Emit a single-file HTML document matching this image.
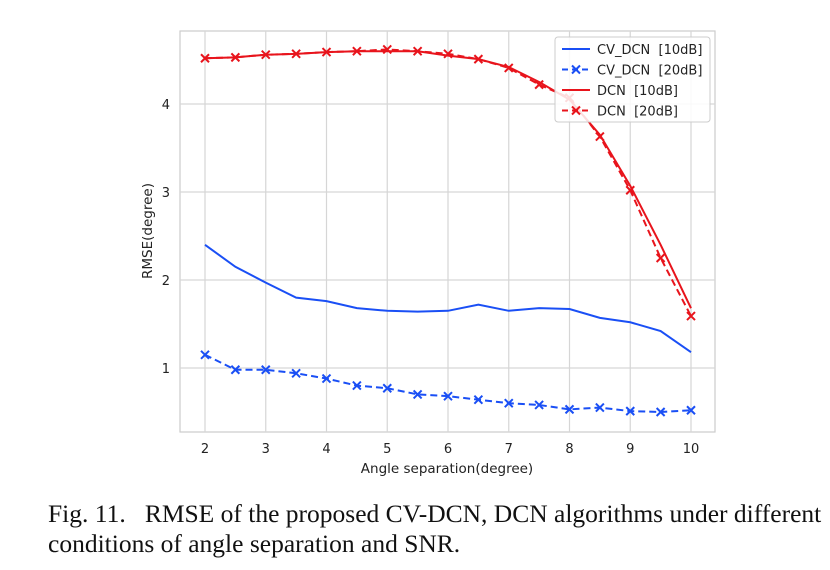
<!DOCTYPE html>
<html><head><meta charset="utf-8"><style>
body{margin:0;background:#fff;width:830px;height:570px;overflow:hidden}
svg text{font-family:"DejaVu Sans","Liberation Sans",sans-serif}
.cap{position:absolute;left:48px;top:499px;font-family:"Liberation Serif",serif;font-size:25.5px;line-height:30px;color:#111;white-space:nowrap;word-spacing:0px}
</style></head><body>
<svg id="chart" width="830" height="570" style="position:absolute;left:0;top:0"></svg>
<div class="cap">Fig. 11.&nbsp;&nbsp; RMSE of the proposed CV-DCN, DCN algorithms under different<br>conditions of angle separation and SNR.</div>
<script>
const xs=[2,2.5,3,3.5,4,4.5,5,5.5,6,6.5,7,7.5,8,8.5,9,9.5,10];
const cv10=[2.40,2.15,1.97,1.80,1.76,1.68,1.65,1.64,1.65,1.72,1.65,1.68,1.67,1.57,1.52,1.42,1.18];
const cv20=[1.15,0.98,0.98,0.94,0.88,0.80,0.77,0.70,0.68,0.64,0.60,0.58,0.53,0.55,0.51,0.50,0.52];
const dcn10=[4.52,4.53,4.56,4.57,4.59,4.60,4.60,4.60,4.55,4.51,4.42,4.25,4.05,3.65,3.07,2.40,1.68];
const dcn20=[4.52,4.53,4.56,4.57,4.59,4.60,4.62,4.60,4.57,4.51,4.41,4.22,4.07,3.63,3.02,2.25,1.59];
const xTicks=[2,3,4,5,6,7,8,9,10];
const yTicks=[1,2,3,4];
const NS="http://www.w3.org/2000/svg";
const svg=document.getElementById('chart');
const X=v=>205+(v-2)*60.75;
const Y=v=>456-v*88;
function mk(t,a){const e=document.createElementNS(NS,t);for(const k in a)e.setAttribute(k,a[k]);svg.appendChild(e);return e;}
const frame=mk('rect',{x:180,y:31,width:535,height:401,fill:'#fff',stroke:'#ccc','stroke-width':1.2});


xTicks.forEach(t=>{
 const g=mk('line',{x1:X(t),x2:X(t),y1:31,y2:432,stroke:'#d6d6d6','stroke-width':1.2});
 
 
 const l=mk('text',{x:X(t),y:453,'text-anchor':'middle','font-size':13,fill:'#222'});l.textContent=t;
 
 
});
yTicks.forEach(t=>{
 const g=mk('line',{x1:180,x2:715,y1:Y(t),y2:Y(t),stroke:'#d6d6d6','stroke-width':1.2});
 
 
 const l=mk('text',{x:170,y:Y(t)+5,'text-anchor':'end','font-size':13,fill:'#222'});l.textContent=t;
 
 
});
const xt=mk('text',{x:447,y:473,'text-anchor':'middle','font-size':13.5,fill:'#222'});xt.textContent='Angle separation(degree)';


const yt=mk('text',{x:152,y:231,'text-anchor':'middle','font-size':13.5,fill:'#222',transform:'rotate(-90 152 231)'});yt.textContent='RMSE(degree)';


function cross(x,y,c,name){
 const p=mk('path',{d:`M${x-4},${y-4}L${x+4},${y+4}M${x-4},${y+4}L${x+4},${y-4}`,stroke:c,'stroke-width':2,fill:'none'});
 
 
}
function series(vals,c,dash,marker,name){
 const d=vals.map((v,i)=>(i?'L':'M')+X(xs[i])+','+Y(v)).join('');
 const p=mk('path',{d,stroke:c,'stroke-width':2,fill:'none','stroke-dasharray':dash?'7,4':'none'});
 
 
 if(marker)vals.forEach((v,i)=>cross(X(xs[i]),Y(v),c,name+'-marker'));
}
series(cv10,'#1a4ff5',false,false,'cv-dcn-10db');
series(cv20,'#1a4ff5',true,true,'cv-dcn-20db');
series(dcn10,'#e8141c',false,false,'dcn-10db');
series(dcn20,'#e8141c',true,true,'dcn-20db');
const lg=mk('rect',{x:555,y:37,width:155,height:85,rx:3,fill:'rgba(255,255,255,0.85)',stroke:'#ccc'});


const items=[['CV_DCN  [10dB]','#1a4ff5',false],['CV_DCN  [20dB]','#1a4ff5',true],['DCN  [10dB]','#e8141c',false],['DCN  [20dB]','#e8141c',true]];
items.forEach((it,i)=>{
 const y=49+i*20.5;
 const l=mk('line',{x1:562,x2:590,y1:y,y2:y,stroke:it[1],'stroke-width':2,'stroke-dasharray':it[2]?'6,4':'none'});
 
 
 if(it[2])cross(576,y,it[1],'legend-marker');
 const t=mk('text',{x:597,y:y+5,'font-size':13,fill:'#222','xml:space':'preserve'});t.textContent=it[0];
 t.style.whiteSpace='pre';
 
 
});
</script>
</body></html>
